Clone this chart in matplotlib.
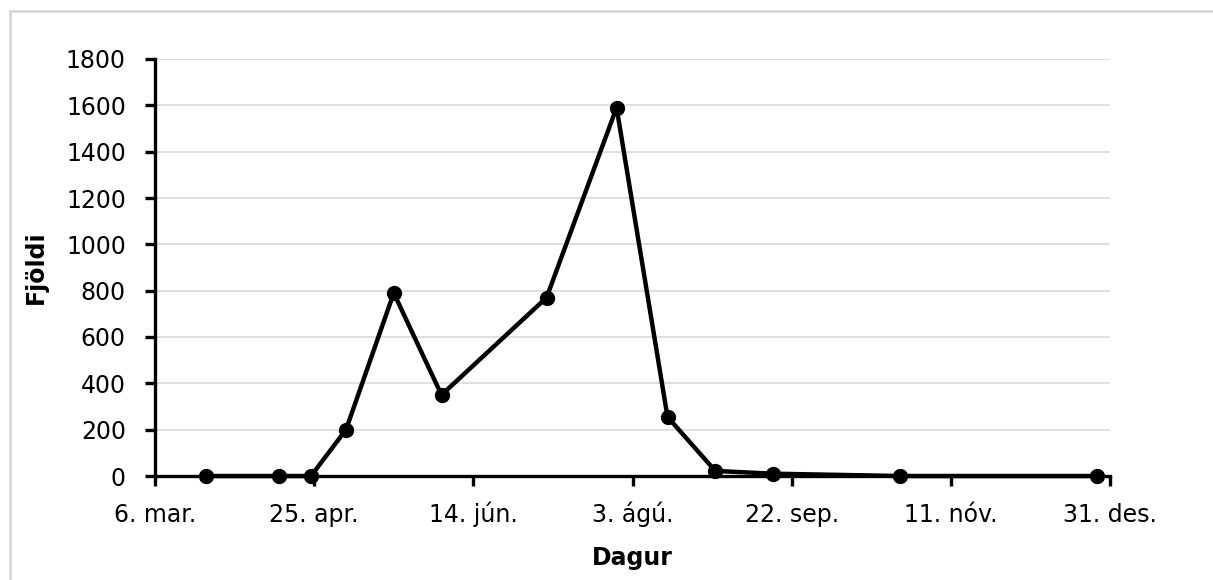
import datetime as dt
import matplotlib
matplotlib.use('Agg')
import matplotlib.pyplot as plt
from matplotlib.lines import Line2D

# sampling dates and counts
dates = ['2019-03-22', '2019-04-14', '2019-04-24', '2019-05-05', '2019-05-20',
         '2019-06-04', '2019-07-07', '2019-07-29', '2019-08-14', '2019-08-29',
         '2019-09-16', '2019-10-26', '2019-12-27']
counts = [0, 0, 0, 200, 790, 350, 770, 1590, 255, 22, 10, 0, 0]

tick_dates = ['2019-03-06', '2019-04-25', '2019-06-14', '2019-08-03',
              '2019-09-22', '2019-11-11', '2019-12-31']
tick_labels = ['6. mar.', '25. apr.', '14. jún.', '3. ágú.',
               '22. sep.', '11. nóv.', '31. des.']
y_ticks = [0, 200, 400, 600, 800, 1000, 1200, 1400, 1600, 1800]

plt.rcParams['font.family'] = ['DejaVu Sans']

x = [dt.datetime.strptime(d, '%Y-%m-%d') for d in dates]
xt = [dt.datetime.strptime(d, '%Y-%m-%d') for d in tick_dates]

fig = plt.figure(figsize=(12.13, 5.8), dpi=100)
ax = fig.add_axes([155 / 1213, 104 / 580, (1110 - 155) / 1213, (476 - 59) / 580])

ax.plot(x, counts, color='black', lw=3.2, marker='o', ms=10, zorder=3, clip_on=False)

ax.set_xlim(xt[0], xt[-1])
ax.set_ylim(0, 1800)
ax.set_xticks(xt)
ax.set_xticklabels(tick_labels, va='baseline')
ax.set_yticks(y_ticks)
ax.yaxis.grid(True, color='#d9d9d9', lw=1.2)
ax.set_axisbelow(True)

for s in ['top', 'right']:
    ax.spines[s].set_visible(False)
for s in ['left', 'bottom']:
    ax.spines[s].set_linewidth(2.4)
ax.tick_params(axis='both', width=2.4, length=7, labelsize=17, color='black')
ax.tick_params(axis='x', pad=26)
ax.tick_params(axis='y', pad=14)

ax.set_xlabel('Dagur', fontsize=17, fontweight='bold')
ax.xaxis.set_label_coords(0.5, -0.168)
ax.set_ylabel('Fjöldi', fontsize=17, fontweight='bold')
ax.yaxis.set_label_coords(-0.112, 0.5)

# light chart-area frame, only left and top edges visible
fig.add_artist(Line2D([9.5 / 1213, 9.5 / 1213], [0, 1 - 11 / 580],
                      transform=fig.transFigure, color='#d9d9d9', lw=2))
fig.add_artist(Line2D([9.5 / 1213, 1], [1 - 11 / 580, 1 - 11 / 580],
                      transform=fig.transFigure, color='#d9d9d9', lw=2))

fig.savefig('out.png', dpi=100)
